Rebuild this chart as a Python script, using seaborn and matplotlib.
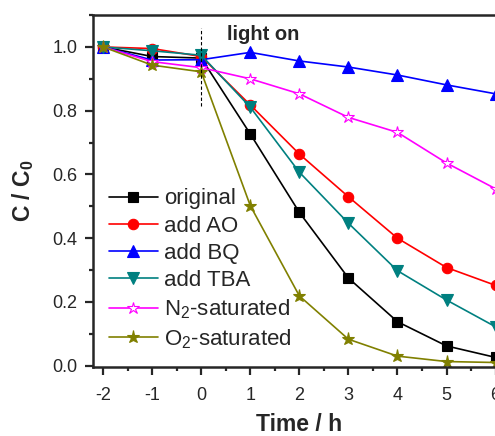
import numpy as np
import pandas as pd
import matplotlib
matplotlib.use("Agg")
import matplotlib.pyplot as plt
import seaborn as sns
from matplotlib.ticker import MultipleLocator

# ---- data ----
time_h = [-2, -1, 0, 1, 2, 3, 4, 5, 6]
original = [1.0, 0.970, 0.965, 0.727, 0.481, 0.275, 0.138, 0.062, 0.026]
add_AO = [1.0, 0.995, 0.970, 0.818, 0.664, 0.530, 0.400, 0.308, 0.252]
add_BQ = [1.0, 0.959, 0.960, 0.983, 0.956, 0.937, 0.912, 0.881, 0.853]
add_TBA = [1.0, 0.988, 0.974, 0.811, 0.607, 0.447, 0.298, 0.206, 0.122]
n2_sat = [1.0, 0.954, 0.935, 0.900, 0.853, 0.779, 0.732, 0.636, 0.555]
o2_sat = [1.0, 0.943, 0.922, 0.502, 0.219, 0.083, 0.030, 0.013, 0.010]

labels = ["original", "add AO", "add BQ", "add TBA",
          "N$_2$-saturated", "O$_2$-saturated"]
series = [original, add_AO, add_BQ, add_TBA, n2_sat, o2_sat]
colors = ["#000000", "#FF0000", "#0000FF", "#008080", "#FF00FF", "#808000"]
markers = ["s", "o", "^", "v", "*", "*"]
msizes = [7, 7.5, 8, 8, 9, 9.5]
facecolors = ["#000000", "#FF0000", "#0000FF", "#008080", "white", "#808000"]

light_on_x = 0
light_on_text = "light on"
x_ticks = [-2, -1, 0, 1, 2, 3, 4, 5, 6]
x_ticklabels = ["-2", "-1", "0", "1", "2", "3", "4", "5", "6"]

sns.set_style("ticks")
plt.rcParams['font.family'] = ['Liberation Sans', 'DejaVu Sans']
plt.rcParams['mathtext.fontset'] = 'custom'
plt.rcParams['mathtext.rm'] = 'Liberation Sans'
plt.rcParams['mathtext.it'] = 'Liberation Sans:italic'
plt.rcParams['mathtext.bf'] = 'Liberation Sans:bold'

fig = plt.figure(figsize=(4.95, 4.36), dpi=100)
ax = fig.add_axes([0.1885, 0.1576, 0.8325, 0.8078])

for lab, vals, c, m, ms, fc in zip(labels, series, colors, markers, msizes, facecolors):
    df = pd.DataFrame({"t": time_h, "c": vals})
    sns.lineplot(data=df, x="t", y="c", ax=ax, color=c, marker=m,
                 markersize=ms, markerfacecolor=fc, markeredgecolor=c,
                 markeredgewidth=0.8, linewidth=1.2, label=lab)

ax.vlines(light_on_x, 0.815, 1.06, colors="black", linestyles=(0, (3, 2)),
          linewidth=0.8)
ax.text(1.26, 1.04, light_on_text, fontsize=14.5, fontweight="bold",
        ha="center", va="center")

ax.set_xlim(-2.2, 6.2)
ax.set_ylim(-0.005, 1.1)
ax.set_xticks(x_ticks)
ax.set_xticklabels(x_ticklabels)
ax.xaxis.set_minor_locator(MultipleLocator(0.5))
ax.yaxis.set_major_locator(MultipleLocator(0.2))
ax.yaxis.set_minor_locator(MultipleLocator(0.1))
ax.tick_params(axis="both", which="major", direction="out", length=6,
               width=1.6, labelsize=13)
ax.tick_params(axis="x", which="major", pad=8.5)
ax.tick_params(axis="y", which="major", pad=5.5)
ax.tick_params(axis="both", which="minor", direction="out", length=3.2,
               width=1.6)
ax.tick_params(top=False, right=False)
for s in ax.spines.values():
    s.set_linewidth(1.8)
    s.set_visible(True)

ax.set_xlabel("Time / h", fontsize=16.5, fontweight="bold", labelpad=6)
ax.set_ylabel(r"$\mathbf{C\ /\ C_0}$", fontsize=16.5, labelpad=12)

leg = ax.legend(loc="upper left", bbox_to_anchor=(0.0, 0.552), frameon=False,
                fontsize=16, handlelength=2.2, handletextpad=0.3,
                labelspacing=0.28, borderaxespad=0.3)

fig.savefig("out.png", dpi=100)
